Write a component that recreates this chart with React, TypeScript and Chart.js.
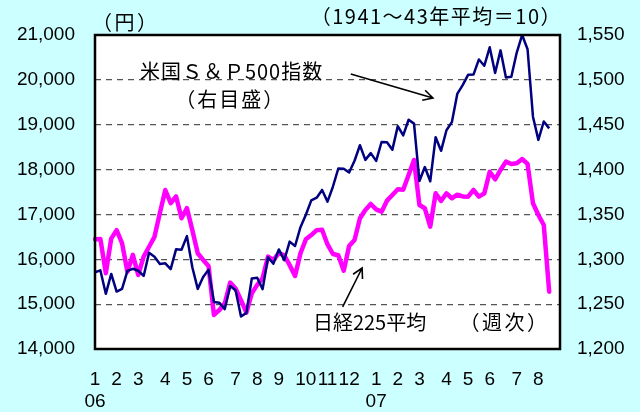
import React, { useEffect, useRef } from 'react';
import { Chart, registerables } from 'chart.js';
Chart.register(...registerables);

// Month labels (weekly data, first week of each month carries the label)
const monthNames = ['1','2','3','4','5','6','7','8','9','10','11','12','1','2','3','4','5','6','7','8'];
const weeksPerMonth = [4,4,5,4,4,5,4,4,5,4,4,5,4,4,5,4,4,5,4,3];
const yearLabels: Record<number, string> = { 0: '06', 12: '07' };

// Nikkei 225 (yen, left axis), weekly
const nikkei = [
  16446, 16450, 15690, 16460, 16650, 16360, 15720, 16100, 15650, 16060,
  16280, 16500, 17030, 17545, 17250, 17400, 16915, 17140, 16650, 16135,
  15985, 15850, 14760, 14870, 15020, 15480, 15350, 15090, 14810, 15240,
  15430, 15580, 16060, 15985, 16135, 16090, 15870, 15630, 16135, 16445,
  16540, 16650, 16660, 16330, 16118, 16090, 15746, 16297, 16430, 16914,
  17100, 17233, 17114, 17062, 17307, 17433, 17560, 17550, 17879, 18214,
  17211, 17137, 16727, 17471, 17300, 17471, 17360, 17440, 17400, 17396,
  17545, 17396, 17470, 17953, 17783, 17991, 18176, 18125, 18140, 18236,
  18125, 17248, 16988, 16765, 15278,
];

// S&P 500 (1941-43 = 10, right axis), weekly
const sp500 = [
  1285.5, 1287.6, 1261.5, 1283.7, 1264.0, 1267.0, 1287.0, 1289.4, 1287.2, 1281.4,
  1307.3, 1302.9, 1294.8, 1295.5, 1289.1, 1311.3, 1310.6, 1325.8, 1291.2, 1267.0,
  1280.2, 1288.2, 1252.3, 1251.5, 1244.5, 1270.2, 1265.5, 1236.2, 1240.3, 1278.6,
  1279.4, 1266.7, 1302.3, 1295.1, 1311.0, 1298.9, 1319.7, 1314.8, 1335.8, 1349.6,
  1365.6, 1368.6, 1377.3, 1364.3, 1380.9, 1401.2, 1401.0, 1396.7, 1409.8, 1427.1,
  1410.8, 1418.3, 1409.7, 1430.7, 1430.5, 1422.2, 1448.4, 1438.1, 1455.5, 1451.2,
  1387.2, 1402.8, 1386.95, 1436.1, 1420.9, 1443.8, 1452.85, 1484.35, 1494.1, 1505.6,
  1505.85, 1522.75, 1515.7, 1536.3, 1507.7, 1532.9, 1502.6, 1503.35, 1530.4, 1550.0,
  1534.1, 1458.95, 1433.1, 1453.6, 1445.9,
];

const leftMin = 14000, leftMax = 21000, leftStep = 1000;
const rightMin = 1200, rightMax = 1550, rightStep = 50;

function buildLabels(): (string | string[])[] {
  const out: (string | string[])[] = [];
  weeksPerMonth.forEach((n, m) => {
    for (let w = 0; w < n; w++) {
      if (w === 0) out.push(yearLabels[m] ? [monthNames[m], yearLabels[m]] : monthNames[m]);
      else out.push('');
    }
  });
  out.push('', '');
  return out;
}

const BG = '#CCFFFF';
const JP = "'Noto Sans CJK JP', sans-serif";
const LAT = "'Liberation Sans', Arial, sans-serif";

function arrow(ctx: CanvasRenderingContext2D, x1: number, y1: number, x2: number, y2: number) {
  ctx.beginPath();
  ctx.moveTo(x1, y1);
  ctx.lineTo(x2, y2);
  const a = Math.atan2(y2 - y1, x2 - x1);
  const L = 11, s = 0.5;
  ctx.moveTo(x2 - L * Math.cos(a - s), y2 - L * Math.sin(a - s));
  ctx.lineTo(x2, y2);
  ctx.lineTo(x2 - L * Math.cos(a + s), y2 - L * Math.sin(a + s));
  ctx.stroke();
}

function text(ctx: any, s: string, x: number, y: number, size: number, align: CanvasTextAlign, spacing: number) {
  ctx.font = `${size}px ${JP}`;
  ctx.textAlign = align;
  ctx.textBaseline = 'middle';
  ctx.letterSpacing = `${spacing}px`;
  ctx.fillText(s, x, y);
  ctx.letterSpacing = '0px';
}

const decor = {
  id: 'decor',
  beforeDraw(chart: any) {
    const { ctx, chartArea: a } = chart;
    ctx.save();
    ctx.fillStyle = BG;
    ctx.fillRect(0, 0, chart.width, chart.height);
    ctx.fillStyle = '#FFFFFF';
    ctx.fillRect(a.left, a.top, a.right - a.left, a.bottom - a.top);
    ctx.restore();
  },
  afterDatasetsDraw(chart: any) {
    const { ctx, chartArea: a, scales } = chart;
    const X = (i: number) => scales.x.getPixelForValue(i);
    const Y = (v: number) => scales.yL.getPixelForValue(v);
    ctx.save();
    ctx.strokeStyle = '#000';
    ctx.lineWidth = 2.5;
    ctx.strokeRect(a.left, a.top, a.right - a.left, a.bottom - a.top);

    ctx.fillStyle = '#000';
    text(ctx, '米国Ｓ＆Ｐ500指数', X(8.3), Y(20180), 20, 'left', 1);
    text(ctx, '（右目盛）', X(25.0), Y(19570), 20, 'center', 2);
    text(ctx, '日経225平均', X(40.3), Y(14603), 20, 'left', 0);
    text(ctx, '（週次）', X(67.4), Y(14603), 20, 'left', 2.5);

    ctx.lineWidth = 1.6;
    ctx.strokeStyle = '#000';
    arrow(ctx, X(47.3), Y(20131), X(62.5), Y(19596));
    arrow(ctx, X(45.8), Y(14937), X(49.4), Y(15806));

    text(ctx, '（円）', a.left - 3, 22, 20, 'left', 2.5);
    text(ctx, '（1941～43年平均＝10）', a.right + 2, 16, 20, 'right', 1.5);
    ctx.restore();
  },
};

export default function App() {
  const ref = useRef<HTMLCanvasElement | null>(null);
  useEffect(() => {
    if (!ref.current) return;
    const labels = buildLabels();
    const chart = new Chart(ref.current, {
      type: 'line',
      data: {
        labels,
        datasets: [
          {
            label: '米国Ｓ＆Ｐ500指数',
            data: sp500,
            yAxisID: 'yR',
            borderColor: '#000080',
            borderWidth: 2.5,
            pointRadius: 0,
            tension: 0,
            borderJoinStyle: 'round',
          },
          {
            label: '日経225平均',
            data: nikkei,
            yAxisID: 'yL',
            borderColor: '#FF00FF',
            borderWidth: 4.5,
            pointRadius: 0,
            tension: 0,
            borderJoinStyle: 'round',
            borderCapStyle: 'round',
          },
        ],
      },
      options: {
        animation: false,
        responsive: false,
        layout: { padding: { top: 35, left: 0, right: 0, bottom: 0 } },
        plugins: { legend: { display: false }, tooltip: { enabled: false }, title: { display: false } },
        scales: {
          x: {
            type: 'category',
            grid: { display: false, drawTicks: false },
            border: { display: false },
            ticks: {
              autoSkip: false,
              maxRotation: 0,
              minRotation: 0,
              padding: 19,
              color: '#000',
              font: { family: LAT, size: 19, lineHeight: 1.2 },
            },
            afterFit: (s: any) => { s.height = 63; },
          },
          yL: {
            type: 'linear',
            position: 'left',
            min: leftMin,
            max: leftMax,
            ticks: {
              stepSize: leftStep,
              padding: 20,
              color: '#000',
              font: { family: LAT, size: 19 },
              callback: (v: any) => Number(v).toLocaleString('en-US'),
            },
            grid: {
              drawTicks: false,
              color: (c: any) => (c.tick && (c.tick.value === leftMin || c.tick.value === leftMax) ? 'rgba(0,0,0,0)' : '#555'),
              lineWidth: 1.2,
            },
            border: { display: false, dash: [6, 5] },
            afterFit: (s: any) => { s.width = 95; },
          },
          yR: {
            type: 'linear',
            position: 'right',
            min: rightMin,
            max: rightMax,
            ticks: {
              stepSize: rightStep,
              padding: 17,
              color: '#000',
              font: { family: LAT, size: 19 },
              callback: (v: any) => Number(v).toLocaleString('en-US'),
            },
            grid: { display: false, drawTicks: false },
            border: { display: false },
            afterFit: (s: any) => { s.width = 80; },
          },
        },
      },
      plugins: [decor],
    });
    return () => chart.destroy();
  }, []);
  return (
    <div style={{ position: 'fixed', left: 0, top: 0, width: 640, height: 412, background: BG }}>
      <canvas ref={ref} width={640} height={412} style={{ width: 640, height: 412, display: 'block' }} />
    </div>
  );
}
